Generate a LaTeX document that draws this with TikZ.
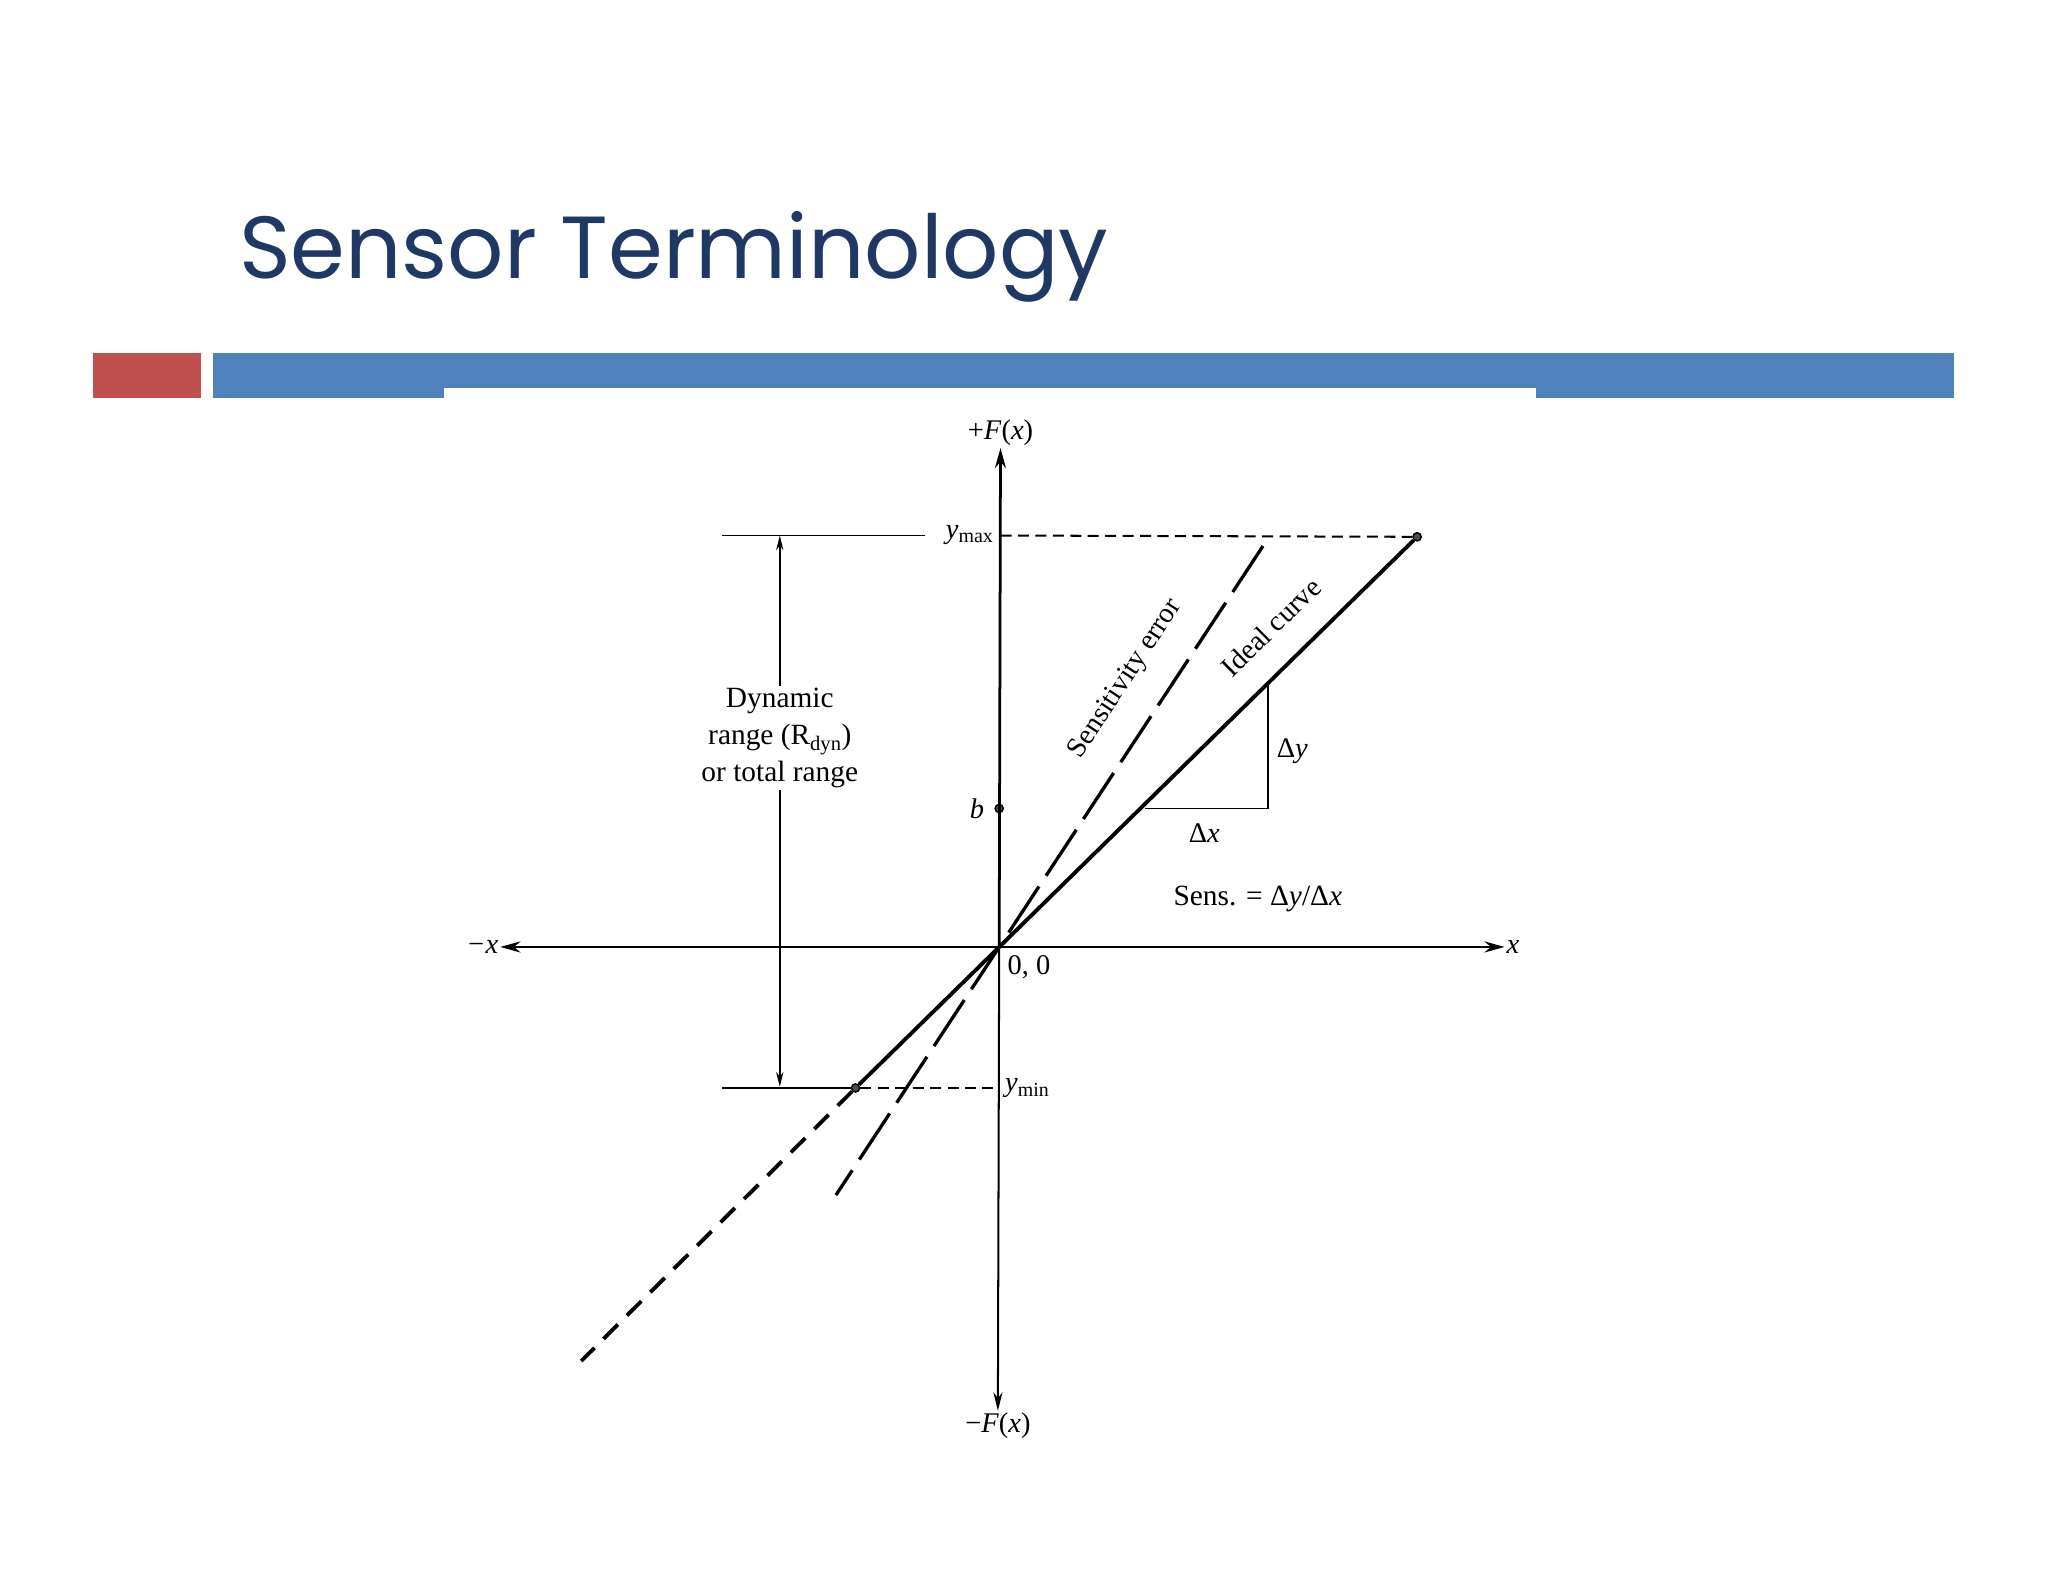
\documentclass[tikz,border=0pt]{standalone}
\usepackage{fontspec}
\setmainfont{Liberation Serif}
\newfontfamily\titlefont{Poppins}
\usetikzlibrary{arrows.meta}
\definecolor{titleblue}{RGB}{31,56,100}
\definecolor{barblue}{RGB}{79,129,189}
\definecolor{barred}{RGB}{192,80,77}
\begin{document}
\begin{tikzpicture}[x=0.05cm,y=-0.05cm,
  lbl/.style={font=\fontsize{31}{35}\selectfont, inner sep=2pt},
  axis/.style={line width=3pt,-{Stealth[length=22pt,width=12pt]}},
  thinax/.style={line width=2.2pt,-{Stealth[length=20pt,width=10pt]}},
  ideal/.style={line width=4.2pt},
  dot/.style={circle,draw,fill=black!70,line width=1.5pt,inner sep=0pt,minimum size=9pt}]
\useasboundingbox (0,0) rectangle (1568,1211);
\fill[white] (0,0) rectangle (1568,1211);
% header
\node[anchor=base west,inner sep=0pt,text=titleblue,font=\titlefont\fontsize{96}{110}\selectfont] (title) at (183,213) {Sensor Terminology};
\fill[barred] (71,270) rectangle (154,305);
\fill[barblue] (163,270) rectangle (1496,305);
\fill[white] (340,297) rectangle (1176,306);
% coordinates
\coordinate (O) at (765,725);
\coordinate (xl) at (383,725);
\coordinate (xr) at (1152,725);
\coordinate (yt) at (766,343);
\coordinate (yb) at (764,1080);
\node[dot] (top) at (1085,411) {};
\node[dot] (bot) at (655,833) {};
\node[dot] (b) at (765,619) {};
\coordinate (ymaxl) at (553,410);
\coordinate (ymaxr) at (708,410);
\coordinate (yminl) at (553,833);
\coordinate (rt) at (597,410);
\coordinate (rb) at (597,832);
\coordinate (se1) at (967,418);
\coordinate (se2) at (640,915);
\coordinate (ext) at (445,1042);
\coordinate (t1) at (971,523);
\coordinate (t2) at (971,619);
\coordinate (t3) at (877,619);
% axes
\draw[axis] (O) -- (xr);
\draw[axis] (O) -- (xl);
\draw[axis] (O) -- (yt);
\draw[thinax] (O) -- (yb);
\node[lbl,anchor=west] (xlab) at (xr) {\textit{x}};
\node[lbl,anchor=east] (mxlab) at (xl) {\textit{−x}};
\node[lbl,anchor=south] (pf) at (yt) {+\textit{F}(\textit{x})};
\node[lbl,anchor=north] (mf) at (yb) {−\textit{F}(\textit{x})};
\node[lbl,anchor=north west] (oo) at (770,730) {0, 0};
% ymax, ymin
\draw[line width=1.6pt] (ymaxl) -- (ymaxr);
\node[lbl,anchor=east] (ymax) at (762,410) {\textit{y}\textsubscript{max}};
\draw[line width=2.2pt,dash pattern=on 12pt off 7pt] (766,410) -- (top);
\draw[line width=1.6pt] (yminl) -- (bot);
\draw[line width=2.2pt,dash pattern=on 12pt off 7pt] (bot) -- (765,833);
\node[lbl,anchor=west] (ymin) at (768,833) {\textit{y}\textsubscript{min}};
% range arrow
\node[lbl,align=center,font=\fontsize{32}{40}\selectfont,fill=white] (rng) at (597,565) {Dynamic\\range (R\textsubscript{dyn})\\or total range};
\draw[line width=1.6pt,-{Stealth[length=16pt,width=8pt]}] (rng) -- (rt);
\draw[line width=1.6pt,-{Stealth[length=16pt,width=8pt]}] (rng) -- (rb);
% lines
\draw[ideal] (bot) -- (top);
\draw[ideal,dash pattern=on 22pt off 14pt] (bot) -- (ext);
\draw[line width=3.6pt,dash pattern=on 60pt off 14pt] (se1) -- (se2);
\node[lbl,rotate=56.7,font=\fontsize{31}{34}\selectfont,inner sep=0pt] (selab) at (862,520) {Sensitivity error};
\node[lbl,rotate=44.5,font=\fontsize{31}{34}\selectfont,inner sep=0pt] (idlab) at (973,480) {Ideal curve};
% triangle
\draw[line width=2pt] (t1) -- (t2) -- (t3);
\node[lbl,anchor=west] (dy) at (976,575) {Δ\textit{y}};
\node[lbl] (dx) at (922,638) {Δ\textit{x}};
\node[lbl,anchor=east] (blab) at (755,619) {\textit{b}};
\node[lbl,font=\fontsize{32}{36}\selectfont] (sens) at (963,688) {Sens. = Δ\textit{y}/Δ\textit{x}};
\end{tikzpicture}
\end{document}
